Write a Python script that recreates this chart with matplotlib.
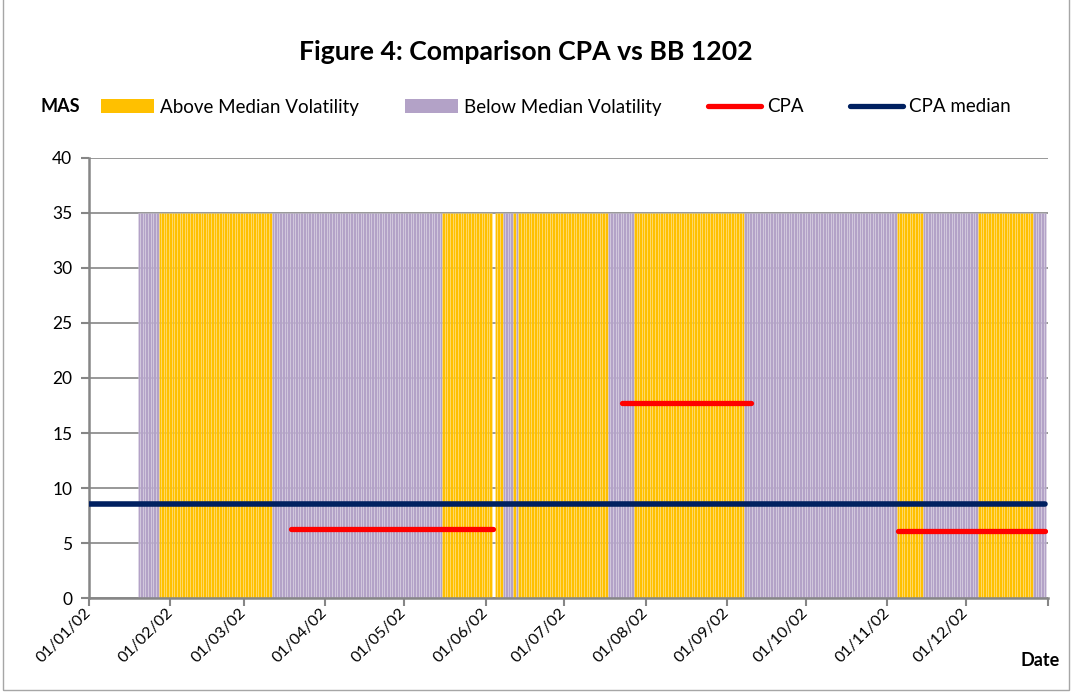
import numpy as np
import pandas as pd
import matplotlib
matplotlib.use("Agg")
import matplotlib.pyplot as plt
from matplotlib.patches import Patch, Rectangle
from matplotlib.lines import Line2D

plt.rcParams['font.family'] = ['Lato', 'DejaVu Sans']

# volatility regime: first day of each run and whether it is above the median
regime_start = ['2002-01-20', '2002-01-28', '2002-03-12', '2002-05-16', '2002-06-08',
                '2002-06-12', '2002-06-13', '2002-06-14', '2002-07-18', '2002-07-28',
                '2002-09-08', '2002-11-05', '2002-11-15', '2002-12-06', '2002-12-27']
regime_above = [False, True, False, True, False,
                True, False, True, False, True,
                False, True, False, True, False]
missing_days = ['2002-06-04']
bar_height = 35
last_day = '2002-12-31'

# CPA held constant over each trading window
cpa_start = ['2002-03-19', '2002-07-23', '2002-11-05']
cpa_end = ['2002-06-04', '2002-09-10', '2002-12-31']
cpa_value = [6.32, 17.70, 6.08]

cpa_median = 8.53
median_span = ['2002-01-01', '2002-12-31']

ORANGE = '#FFC000'
PURPLE = '#B3A2C7'
RED = '#FF0000'
NAVY = '#002060'
GREY = '#868686'

days = pd.date_range(regime_start[0], last_day, freq='D')
days = days[~days.isin(pd.to_datetime(missing_days))]
starts = pd.to_datetime(regime_start)
idx = np.searchsorted(starts.values, days.values, side='right') - 1
colors = [ORANGE if regime_above[i] else PURPLE for i in idx]

W, H = 1076, 697
fig = plt.figure(figsize=(W / 100, H / 100), dpi=100)
ax = fig.add_axes([89 / W, 1 - 598.3 / H, (1047.5 - 89) / W, (598.3 - 157.7) / H])

ax.bar(days, bar_height, width=1.0, color=colors,
       edgecolor=(1, 1, 1, 0.3), linewidth=0.4, zorder=2)

for s, e, v in zip(cpa_start, cpa_end, cpa_value):
    ax.plot(pd.to_datetime([s, e]), [v, v], color=RED, lw=3.8,
            solid_capstyle='round', zorder=3)
ax.plot(pd.to_datetime(median_span), [cpa_median, cpa_median], color=NAVY,
        lw=4.0, solid_capstyle='round', zorder=4)

ax.set_ylim(0, 40)
ax.set_yticks(np.arange(0, 41, 5))
ax.set_xlim(pd.Timestamp('2002-01-01'), pd.Timestamp('2003-01-01'))
months = pd.date_range('2002-01-01', '2003-01-01', freq='MS')
ax.set_xticks(months)
labels = [d.strftime('%d/%m/%y') for d in months]
labels[-1] = ''
ax.set_xticklabels(labels, rotation=45, ha='right', va='center',
                   rotation_mode='anchor', fontsize=11.5)
ax.tick_params(axis='x', length=6, width=1.5, color=GREY, pad=3)
ax.tick_params(axis='y', length=6, width=1.5, color=GREY, labelsize=12.5, pad=6)

ax.yaxis.grid(True, color=GREY, lw=1.2)
ax.set_axisbelow(True)
for side in ['top', 'right']:
    ax.spines[side].set_visible(False)
for side in ['left', 'bottom']:
    ax.spines[side].set_color(GREY)
    ax.spines[side].set_linewidth(1.8)

fig.text(526 / W, 1 - 52 / H, 'Figure 4: Comparison CPA vs BB 1202',
         ha='center', va='center', fontsize=19.2, fontweight='bold')
fig.text(40 / W, 1 - 107 / H, 'MAS', ha='left', va='center',
         fontsize=13, fontweight='bold')
fig.text(1040 / W, 1 - 660 / H, 'Date', ha='center', va='center',
         fontsize=13, fontweight='bold')

handles = [Patch(facecolor=ORANGE, edgecolor='none'),
           Patch(facecolor=PURPLE, edgecolor='none'),
           Line2D([], [], color=RED, lw=3.8, solid_capstyle='round'),
           Line2D([], [], color=NAVY, lw=3.8, solid_capstyle='round')]
fig.legend(handles, ['Above Median Volatility', 'Below Median Volatility', 'CPA', 'CPA median'],
           loc='center left', bbox_to_anchor=(101 / W, 1 - 107 / H), ncol=4,
           frameon=False, fontsize=13.5, borderpad=0, borderaxespad=0,
           handlelength=2.8, handleheight=0.7, handletextpad=0.32,
           columnspacing=2.5)

# chart area border
fig.add_artist(Rectangle((3 / W, 7 / H), 1066 / W, 1.5, transform=fig.transFigure,
                         fill=False, edgecolor='#A6A6A6', lw=1.0))

fig.savefig('out.png', dpi=100)
